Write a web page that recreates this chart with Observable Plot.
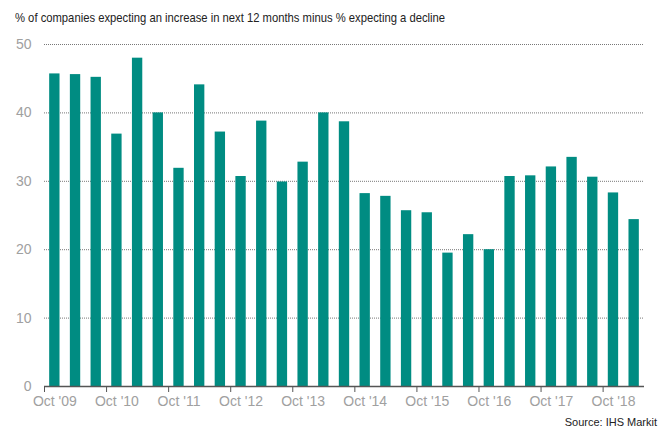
<!DOCTYPE html>
<html>
<head>
<meta charset="utf-8">
<script src="https://cdn.jsdelivr.net/npm/d3@7"></script>
<script src="https://cdn.jsdelivr.net/npm/@observablehq/plot@0.6"></script>
<style>
  html, body { margin: 0; padding: 0; background: #fff; }
  #wrap { position: relative; width: 663px; height: 430px; overflow: hidden; font-family: "Liberation Sans", Arial, sans-serif; }
  #title { position: absolute; left: 15px; top: 10px; font-size: 13px; color: #222; white-space: nowrap; transform: scaleX(0.865); transform-origin: 0 0; }
  #source { position: absolute; right: 6px; top: 416px; font-size: 11px; color: #222; white-space: nowrap; }
  #chart { position: absolute; left: 0; top: 0; }
</style>
</head>
<body>
<div id="wrap">
  <div id="chart"></div>
  <div id="title">% of companies expecting an increase in next 12 months minus % expecting a decline</div>
  <div id="source">Source: IHS Markit</div>
</div>
<script>
// Survey rounds (Oct, Feb, Jun), Oct 2009 to Feb 2019
const periods = [
  "Oct '09", "Feb '10", "Jun '10",
  "Oct '10", "Feb '11", "Jun '11",
  "Oct '11", "Feb '12", "Jun '12",
  "Oct '12", "Feb '13", "Jun '13",
  "Oct '13", "Feb '14", "Jun '14",
  "Oct '14", "Feb '15", "Jun '15",
  "Oct '15", "Feb '16", "Jun '16",
  "Oct '16", "Feb '17", "Jun '17",
  "Oct '17", "Feb '18", "Jun '18",
  "Oct '18", "Feb '19"
];
// Net balance: % expecting an increase minus % expecting a decline
const netBalance = [
  45.7, 45.6, 45.2,
  36.9, 48.0, 40.0,
  31.9, 44.1, 37.2,
  30.7, 38.8, 29.9,
  32.8, 40.0, 38.7,
  28.2, 27.8, 25.7,
  25.4, 19.5, 22.2,
  20.0, 30.7, 30.8,
  32.1, 33.5, 30.6,
  28.3, 24.4
];
const yTicks = [0, 10, 20, 30, 40, 50];
const gridTicks = [10, 20, 30, 40, 50];
const labelledPeriods = periods.filter(p => p.startsWith("Oct"));

const data = periods.map((p, i) => ({period: p, value: netBalance[i]}));

const width = 663, height = 430;
const marginLeft = 44, marginRight = 19, marginTop = 44, marginBottom = 44;
const step = (width - marginLeft - marginRight) / periods.length;

const grey = "#a0a0a0";

const chart = Plot.plot({
  width, height,
  marginLeft, marginRight, marginTop, marginBottom,
  style: {fontFamily: "'Liberation Sans', Arial, sans-serif", fontSize: "14px", background: "transparent"},
  x: {type: "band", domain: periods, paddingInner: 0.5, paddingOuter: 0.25, round: false, label: null},
  y: {domain: [0, 50], label: null},
  marks: [
    Plot.ruleY(gridTicks, {stroke: "#777", strokeWidth: 1, strokeDasharray: "1,1"}),
    Plot.barY(data, {x: "period", y: "value", fill: "#008c82"}),
    Plot.ruleY([0], {stroke: "#555", strokeWidth: 1.3}),
    Plot.axisY({ticks: yTicks, tickSize: 0, tickPadding: 13, fill: grey, fontSize: 14}),
    // tick marks at the start of each October band
    Plot.axisX({ticks: labelledPeriods, tickSize: 6, tickFormat: () => "", stroke: "#555", dx: -step / 2}),
    // October labels centred under their bars
    Plot.axisX({ticks: labelledPeriods, tickSize: 0, tickPadding: 10, fill: grey, fontSize: 14})
  ]
});

document.getElementById("chart").appendChild(chart);
</script>
</body>
</html>
